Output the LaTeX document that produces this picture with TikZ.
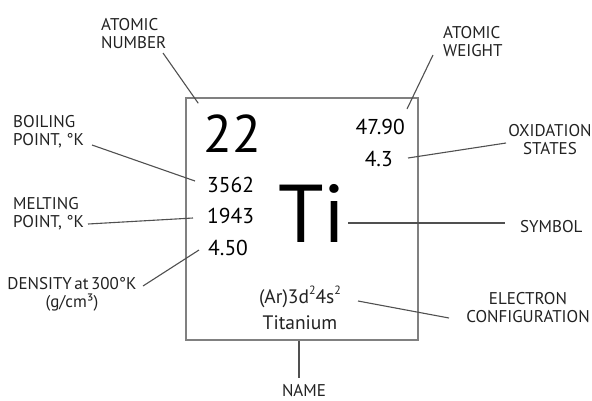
\documentclass[tikz,border=0pt]{standalone}
\usepackage{fontspec}
\setmainfont{PT Sans}
\definecolor{labelgray}{HTML}{222222}
\definecolor{linegray}{HTML}{505050}
\definecolor{boxgray}{HTML}{808080}
\newcommand{\supr}[1]{\raisebox{0.42em}{\fontsize{12}{12}\selectfont #1}}
\begin{document}
\begin{tikzpicture}[x=1pt,y=-1pt,
  lab/.style={inner sep=0pt, text=labelgray, font=\fontsize{17}{18}\selectfont},
  num/.style={inner sep=0pt, text=black, font=\fontsize{21.5}{26}\selectfont},
  leader/.style={draw=linegray, line width=1.1pt}]
\useasboundingbox (0,0) rectangle (592,400);
% box
\node[draw=boxgray, line width=1.5pt, minimum width=232pt, minimum height=242pt, inner sep=0pt] (box) at (302,219) {};
% contents
\node[num, anchor=base west, font=\fontsize{53}{60}\selectfont] (n22) at (203,152) {22};
\node[num, anchor=base west] (n3562) at (207,192) {3562};
\node[num, anchor=base west] (n1943) at (207,223) {1943};
\node[num, anchor=base west] (n450) at (208,255) {4.50};
\node[num, anchor=base east] (n4790) at (405,134) {47.90};
\node[num, anchor=base east] (n43) at (393,166) {4.3};
\node[num, anchor=base west, font=\fontsize{82}{90}\selectfont] (sym) at (278,242) {Ti};
\node[num, anchor=base, font=\fontsize{19.5}{24}\selectfont, text=labelgray] (conf) at (300,303) {(Ar)3d\supr{2}4s\supr{2}};
\node[num, anchor=base, font=\fontsize{19.5}{24}\selectfont, text=labelgray] (tname) at (300,329) {Titanium};
% labels
\node[lab, anchor=north west, align=left] (lan) at (101,18) {ATOMIC\\NUMBER};
\node[lab, anchor=north west, align=left] (law) at (443,26) {ATOMIC\\WEIGHT};
\node[lab, anchor=north, align=center] (lox) at (550,124) {OXIDATION\\STATES};
\node[lab, anchor=north west, align=left] (lbp) at (13,115) {BOILING\\POINT, °K};
\node[lab, anchor=north west, align=left] (lmp) at (13,197) {MELTING\\POINT, °K};
\node[lab, anchor=north, align=center] (lden) at (72,277) {DENSITY\hspace{0.15em}at\hspace{0.15em}300°K\\(g/cm³)};
\node[lab, anchor=base west] (lsym) at (520,232) {SYMBOL};
\node[lab, anchor=north, align=center] (lec) at (528,292) {ELECTRON\\CONFIGURATION};
\node[lab, anchor=base] (lname) at (304,396) {NAME};
% leaders
\draw[leader] ([shift={(62,35)}]lan.north west) -- ([shift={(13,6)}]box.north west);
\draw[leader] ([shift={(79,30)}]lbp.north west) -- ([shift={(-12,-11)}]n3562.base west);
\draw[leader] ([shift={(-10,29)}]law.north west) -- ([shift={(2,-25)}]n4790.base east);
\draw[leader] ([shift={(15,-8)}]n43.base east) -- ([shift={(-44,19)}]lox.north);
\draw[leader] ([shift={(75,27)}]lmp.north west) -- ([shift={(-14,-5)}]n1943.base west);
\draw[leader] ([shift={(71,9)}]lden.north) -- ([shift={(-9,-5)}]n450.base west);
\draw[leader] ([shift={(70,-19)}]sym.base west) -- ([shift={(-15,-9)}]lsym.base west);
\draw[leader] ([shift={(58,-2)}]conf.base) -- ([shift={(-79,26)}]lec.north);
\draw[leader] ([xshift=-3pt]box.south) -- ([shift={(-5,-18)}]lname.base);
\end{tikzpicture}
\end{document}
